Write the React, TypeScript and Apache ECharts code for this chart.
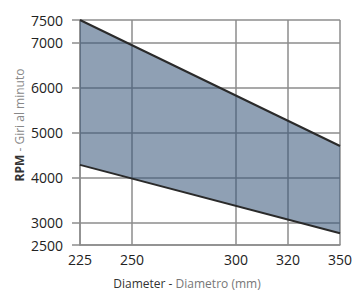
import React, { useEffect, useRef } from "react";
import * as echarts from "echarts";

const diameters = [225, 350];
const upperRpm = [7500, 4700];
const lowerRpm = [4280, 2760];
const xTickValues = [225, 250, 300, 325, 350];
const xTickLabels = ["225", "250", "300", "320", "350"];
const yTickValues = [2500, 3000, 4000, 5000, 6000, 7000, 7500];

export default function App() {
  const ref = useRef<HTMLDivElement>(null);
  useEffect(() => {
    if (!ref.current) return;
    const chart = echarts.init(ref.current, null, { renderer: "svg" });
    const labelFont = "'Open Sans', 'Liberation Sans', sans-serif";
    const gridColor = "#8c8c8c";
    const bandData = diameters.map((d, i) => [d, lowerRpm[i], upperRpm[i]]);
    chart.setOption({
      animation: false,
      grid: { left: 80, right: 12, top: 20, bottom: 46, outerBoundsMode: "none", containLabel: false },
      graphic: [
        {
          type: "text",
          x: 19,
          y: 125,
          rotation: Math.PI / 2,
          style: {
            text: "{b|RPM}{g| - Giri al minuto}",
            align: "center",
            verticalAlign: "middle",
            rich: {
              b: { fontSize: 12, fontWeight: "bold", fill: "#333", fontFamily: labelFont },
              g: { fontSize: 12, fill: "#888", fontFamily: labelFont },
            },
          },
        },
      ],
      xAxis: {
        type: "value",
        min: 225,
        max: 350,
        name: "{d|Diameter - }{g|Diametro (mm)}",
        nameLocation: "middle",
        nameGap: 32,
        nameTextStyle: {
          padding: [0, 46, 0, 0],
          rich: {
            d: { fontSize: 12, color: "#333", fontFamily: labelFont },
            g: { fontSize: 12, color: "#777", fontFamily: labelFont },
          },
        },
        axisLine: { show: true, lineStyle: { color: gridColor, width: 1.5 } },
        axisTick: { show: false, customValues: xTickValues },
        axisLabel: {
          customValues: xTickValues,
          margin: 7,
          fontSize: 14,
          color: "#222",
          fontFamily: labelFont,
          formatter: (v: number) => xTickLabels[xTickValues.indexOf(v)] ?? "",
        },
        splitLine: { show: true, lineStyle: { color: gridColor, width: 1.5 } },
      },
      yAxis: {
        type: "value",
        min: 2500,
        max: 7500,
        axisLine: { show: true, lineStyle: { color: gridColor, width: 1.5 } },
        axisTick: { show: true, length: 8, customValues: yTickValues, lineStyle: { color: gridColor, width: 1.5 } },
        axisLabel: {
          customValues: yTickValues,
          margin: 17,
          fontSize: 14,
          color: "#222",
          fontFamily: labelFont,
          formatter: (v: number) => String(v),
        },
        splitLine: { show: true, lineStyle: { color: gridColor, width: 1.5 } },
      },
      series: [
        {
          type: "custom",
          data: bandData,
          encode: { x: 0, y: [1, 2] },
          renderItem: (params: any, api: any) => {
            const i = params.dataIndex;
            if (i >= bandData.length - 1) return null;
            const a = bandData[i];
            const b = bandData[i + 1];
            const pts = [
              api.coord([a[0], a[2]]),
              api.coord([b[0], b[2]]),
              api.coord([b[0], b[1]]),
              api.coord([a[0], a[1]]),
            ];
            return {
              type: "polygon",
              shape: { points: pts },
              style: { fill: "rgba(55, 86, 122, 0.56)" },
            };
          },
          z: 1,
        },
        {
          type: "line",
          symbol: "none",
          data: diameters.map((d, i) => [d, lowerRpm[i]]),
          lineStyle: { color: "#2a2a2a", width: 2 },
          z: 3,
        },
        {
          type: "line",
          symbol: "none",
          data: diameters.map((d, i) => [d, upperRpm[i]]),
          lineStyle: { color: "#2a2a2a", width: 2 },
          z: 3,
        },
      ],
    });
    return () => chart.dispose();
  }, []);
  return (
    <div
      ref={ref}
      style={{ position: "fixed", left: 0, top: 0, width: 352, height: 291, background: "#fff" }}
    />
  );
}
